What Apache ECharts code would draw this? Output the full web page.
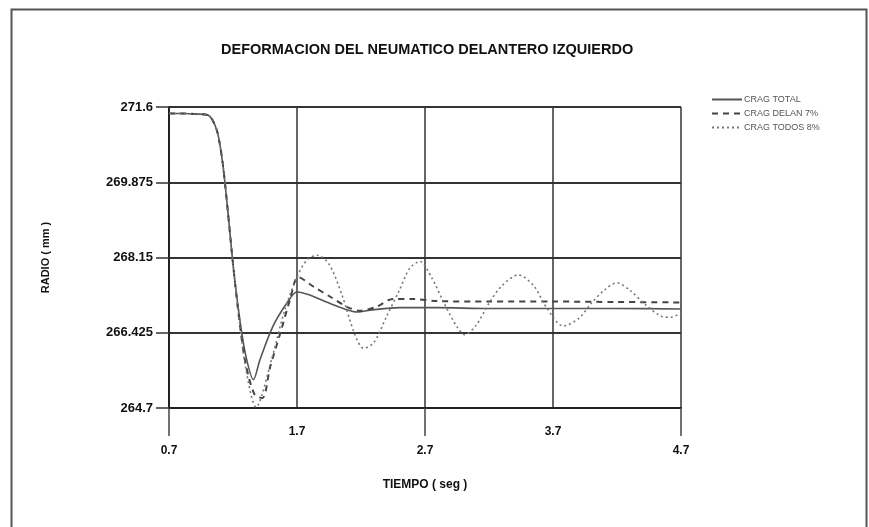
<!DOCTYPE html>
<html>
<head>
<meta charset="utf-8">
<script src="https://cdn.jsdelivr.net/npm/echarts@6/dist/echarts.min.js"></script>
<style>
html,body{margin:0;padding:0;background:#fff;}
#chart{width:869px;height:527px;}
</style>
</head>
<body>
<div id="chart"></div>
<script>
var titleText = 'DEFORMACION DEL NEUMATICO DELANTERO IZQUIERDO';
var seriesNames = ['CRAG TOTAL', 'CRAG DELAN 7%', 'CRAG TODOS 8%'];
var xTicks = [0.7, 1.7, 2.7, 3.7, 4.7];
var yTicks = [264.7, 266.425, 268.15, 269.875, 271.6];

var tTotal = [0.7, 0.8, 0.9, 1.0, 1.04, 1.08, 1.12, 1.16, 1.2, 1.25, 1.3, 1.36, 1.41, 1.51, 1.62, 1.7, 1.8, 1.93, 2.05, 2.17, 2.29, 2.5, 2.8, 3.2, 3.7, 4.2, 4.7];
var vTotal = [271.45, 271.45, 271.44, 271.42, 271.3, 271.0, 270.3, 269.2, 268.0, 266.8, 265.9, 265.35, 265.8, 266.56, 267.1, 267.36, 267.29, 267.13, 266.99, 266.9, 266.95, 267.0, 267.0, 266.98, 266.98, 266.98, 266.97];

var tDelan = [0.7, 0.8, 0.9, 1.0, 1.04, 1.08, 1.12, 1.16, 1.2, 1.25, 1.3, 1.37, 1.43, 1.49, 1.57, 1.645, 1.71, 1.83, 1.96, 2.09, 2.19, 2.32, 2.45, 2.6, 2.8, 3.2, 3.7, 4.2, 4.7];
var vDelan = [271.45, 271.45, 271.44, 271.42, 271.3, 271.0, 270.3, 269.2, 268.0, 266.7, 265.7, 265.0, 264.93, 265.64, 266.42, 267.18, 267.7, 267.48, 267.25, 267.02, 266.93, 267.02, 267.2, 267.2, 267.15, 267.14, 267.14, 267.13, 267.12];

var tTodos = [0.7, 0.8, 0.9, 1.0, 1.04, 1.08, 1.12, 1.16, 1.2, 1.25, 1.3, 1.38, 1.5, 1.6, 1.7, 1.78, 1.86, 1.95, 2.05, 2.15, 2.22, 2.3, 2.4, 2.5, 2.58, 2.66, 2.75, 2.85, 2.95, 3.01, 3.1, 3.2, 3.3, 3.43, 3.55, 3.65, 3.78, 3.9, 4.0, 4.1, 4.2, 4.3, 4.43, 4.55, 4.62, 4.7];
var vTodos = [271.45, 271.45, 271.44, 271.42, 271.3, 271.0, 270.3, 269.2, 268.0, 266.7, 265.6, 264.72, 265.8, 266.9, 267.7, 268.1, 268.2, 268.0, 267.3, 266.4, 266.07, 266.2, 266.8, 267.4, 267.9, 268.06, 267.7, 267.1, 266.56, 266.38, 266.6, 267.1, 267.5, 267.75, 267.5, 267.0, 266.58, 266.75, 267.1, 267.4, 267.57, 267.4, 267.05, 266.8, 266.78, 266.88];

function pairs(t, v) { return t.map(function (x, i) { return [x, v[i]]; }); }

var chart = echarts.init(document.getElementById('chart'));
var font = 'Liberation Sans, Arial, sans-serif';
var option = {
  backgroundColor: '#fff',
  animation: false,
  title: {
    text: titleText, left: 216, top: 37,
    textStyle: { fontFamily: font, fontSize: 14.5, fontWeight: 'bold', color: '#111' }
  },
  legend: {
    orient: 'vertical', left: 706, top: 90,
    itemWidth: 30, itemHeight: 8, itemGap: 5,
    itemStyle: { opacity: 0 },
    textStyle: { fontFamily: font, fontSize: 9, color: '#555', padding: [0, 0, 0, -3] },
    data: seriesNames
  },
  grid: { left: 169, right: 188, top: 107, bottom: 119 },
  xAxis: [{
    type: 'value', min: 0.7, max: 4.7, interval: 1,
    name: 'TIEMPO ( seg )', nameLocation: 'middle', nameGap: 71,
    nameTextStyle: { fontFamily: font, fontSize: 12, fontWeight: 'bold', color: '#111' },
    axisLine: { show: true, onZero: false, lineStyle: { color: '#222', width: 2 } },
    axisTick: { show: false },
    axisLabel: {
      fontFamily: font, fontSize: 12, fontWeight: 'bold', color: '#111', margin: 14, lineHeight: 19,
      formatter: function (v) {
        var idx = xTicks.findIndex(function (x) { return Math.abs(x - v) < 1e-6; });
        var s = v.toFixed(1);
        return idx % 2 === 0 ? '\n' + s : s;
      }
    },
    splitLine: { show: true, lineStyle: { color: '#333', width: 1.5 } }
  }, {
    type: 'value', min: 0.7, max: 4.7, interval: 2, position: 'bottom',
    axisLine: { show: false },
    axisTick: { show: true, length: 28, lineStyle: { color: '#444', width: 1.5 } },
    axisLabel: { show: false },
    splitLine: { show: false }
  }],
  yAxis: {
    type: 'value', min: 264.7, max: 271.6, interval: 1.725,
    name: 'RADIO ( mm )', nameLocation: 'middle', nameGap: 118, nameRotate: 90,
    nameTextStyle: { fontFamily: font, fontSize: 11, fontWeight: 'bold', color: '#111' },
    axisLine: { show: true, lineStyle: { color: '#222', width: 2 } },
    axisTick: { show: true, length: 13, lineStyle: { color: '#333', width: 1.5 } },
    axisLabel: {
      fontFamily: font, fontSize: 13, fontWeight: 'bold', color: '#111', margin: 16,
      formatter: function (v) { return String(parseFloat(v.toFixed(3))); }
    },
    splitLine: { show: true, lineStyle: { color: '#333', width: 2 } }
  },
  graphic: [{
    type: 'rect', left: 9, top: 7, silent: true,
    shape: { width: 855, height: 530 },
    style: { fill: 'none', stroke: '#555', lineWidth: 2 }
  }],
  series: [{
    name: seriesNames[0], type: 'line', data: pairs(tTotal, vTotal),
    smooth: 0.3, symbol: 'none',
    lineStyle: { color: '#555', width: 1.6, type: 'solid' }, itemStyle: { color: '#555' }
  }, {
    name: seriesNames[1], type: 'line', data: pairs(tDelan, vDelan),
    smooth: 0.3, symbol: 'none',
    lineStyle: { color: '#444', width: 2, type: [6, 5] }, itemStyle: { color: '#444' }
  }, {
    name: seriesNames[2], type: 'line', data: pairs(tTodos, vTodos),
    smooth: 0.3, symbol: 'none',
    lineStyle: { color: '#777', width: 1.6, type: [2, 3] }, itemStyle: { color: '#777' }
  }]
};
chart.setOption(option);
</script>
</body>
</html>
